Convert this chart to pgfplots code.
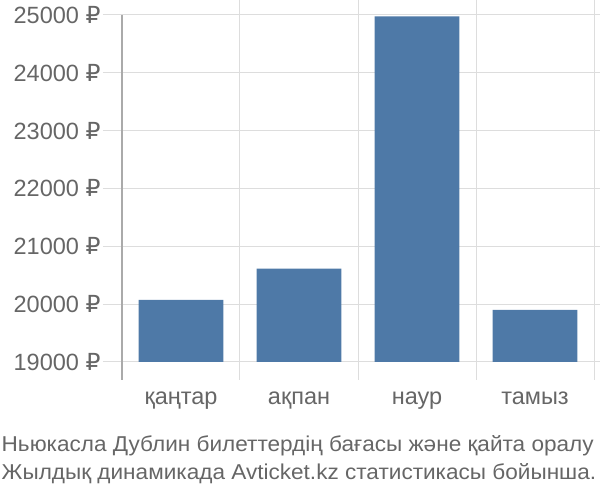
\documentclass[border=0pt]{standalone}
\usepackage{fontspec}
\setmainfont{Liberation Sans}
\newfontfamily\rub{DejaVu Sans}
\newfontfamily\capfont[FakeStretch=1.05]{Liberation Sans}
\usepackage{pgfplots}
\pgfplotsset{compat=1.18}

\definecolor{barblue}{HTML}{4E79A7}
\definecolor{txtgray}{HTML}{666666}
\definecolor{gridgray}{HTML}{DDDDDD}
\definecolor{axisgray}{HTML}{AAAAAA}

\newcommand{\R}{{\rub ₽}}

\begin{document}
\begin{tikzpicture}[x=1pt,y=1pt]
\useasboundingbox (0,0) rectangle (600,500);
\begin{axis}[
    at={(122pt,138pt)}, anchor=south west,
    scale only axis,
    width=472pt, height=347pt,
    xmin=-0.5, xmax=3.5,
    ymin=19000, ymax=25000,
    ybar, bar width=0.72,
    xtick={0,1,2,3},
    xticklabels={қаңтар, ақпан, наур, тамыз},
    minor xtick={0.5,1.5,2.5,3.5},
    xminorgrids, ymajorgrids,
    ytick={19000,20000,...,25000},
    yticklabels={19000 \R,20000 \R,21000 \R,22000 \R,23000 \R,24000 \R,25000 \R},
    scaled y ticks=false,
    tick align=outside,
    major tick length=19pt,
    minor tick length=18pt,
    xtick style={draw=none},
    minor x tick style={draw=gridgray, line width=1pt},
    ytick style={draw=gridgray, line width=1pt},
    grid style={draw=gridgray, line width=1pt},
    minor grid style={draw=gridgray, line width=1pt},
    axis line style={draw=none},
    tick label style={font=\fontsize{23.5}{27}\selectfont, text=txtgray},
    xticklabel style={anchor=base, yshift=-24pt},
    yticklabel style={xshift=1pt},
    clip=false,
]
\addplot[fill=barblue, draw=none] coordinates {
    (0,20075) (1,20615) (2,24975) (3,19900)
};
\draw[axisgray, line width=1.3pt] (rel axis cs:0,1) -- ([yshift=-18pt]rel axis cs:0,0);
\end{axis}
\node[anchor=base west, inner sep=0pt, text=txtgray, font=\capfont\fontsize{21.5}{28}\selectfont] at (1.5,48)
  {Ньюкасла Дублин билеттердің бағасы және қайта оралу};
\node[anchor=base west, inner sep=0pt, text=txtgray, font=\capfont\fontsize{21.5}{28}\selectfont] at (1.5,20)
  {Жылдық динамикада Avticket.kz статистикасы бойынша.};
\end{tikzpicture}
\end{document}
